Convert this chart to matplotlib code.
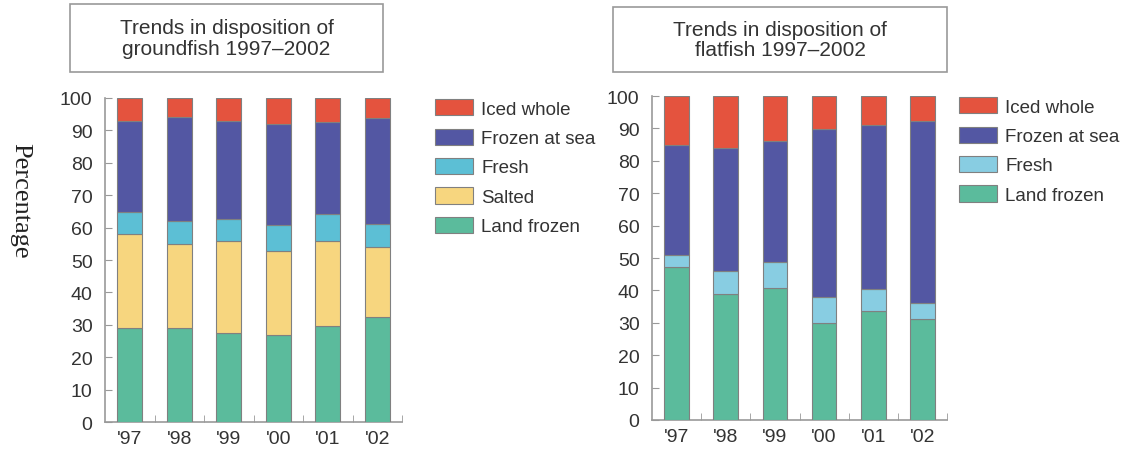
import numpy as np
import matplotlib.pyplot as plt
from matplotlib.patches import Rectangle

plt.rcParams['font.family'] = ['Liberation Sans', 'DejaVu Sans']

years = ["'97", "'98", "'99", "'00", "'01", "'02"]

# groundfish shares (%)
gf_land = [29, 29, 27.6, 27, 29.5, 32.4]
gf_salted = [29, 25.9, 28.3, 25.8, 26.4, 21.7]
gf_fresh = [6.8, 7.1, 6.7, 8.0, 8.2, 7.1]
gf_frozen = [28.2, 32.0, 30.4, 31.3, 28.5, 32.7]
gf_iced = [7.0, 6.0, 7.0, 7.9, 7.4, 6.1]

# flatfish shares (%)
ff_land = [47.1, 39.0, 40.8, 30.0, 33.5, 31.1]
ff_fresh = [3.9, 7.0, 8.1, 8.0, 6.8, 5.0]
ff_frozen = [34.0, 38.1, 37.2, 51.9, 50.8, 56.3]
ff_iced = [15.0, 15.9, 13.9, 10.1, 8.9, 7.6]

c_iced = '#e4533e'
c_frozen = '#5357a3'
c_fresh_gf = '#5cbfd5'
c_fresh_ff = '#88cde2'
c_salted = '#f7d67f'
c_land = '#5bbb9c'
edge = '#808080'
txt = '#333333'

fig = plt.figure(figsize=(11.24, 4.56), dpi=100)
W, H = 1124, 456


def px_axes(x0, y_top, x1, y_bot):
    return fig.add_axes([x0 / W, 1 - y_bot / H, (x1 - x0) / W, (y_bot - y_top) / H])


def stacked(ax, layers):
    x = np.arange(len(years))
    bottom = np.zeros(len(years))
    for vals, col, lab in layers:
        ax.bar(x, vals, width=0.5, bottom=bottom, color=col, edgecolor=edge,
               linewidth=0.8, label=lab, zorder=3)
        bottom += np.array(vals)
    ax.set_xlim(-0.5, len(years) - 0.5)
    ax.set_ylim(0, 100)
    ax.set_xticks(x)
    ax.set_xticklabels(years)
    ax.set_xticks(np.arange(len(years)) + 0.5, minor=True)
    ax.tick_params(axis='x', which='major', length=0, pad=6, labelsize=14, labelcolor=txt)
    ax.tick_params(axis='x', which='minor', direction='in', length=5, color='#999999')
    ax.set_yticks(range(0, 101, 10))
    ax.tick_params(axis='y', direction='in', length=5, color='#999999', pad=9,
                   labelsize=14, labelcolor=txt)
    for s in ['top', 'right']:
        ax.spines[s].set_visible(False)
    for s in ['left', 'bottom']:
        ax.spines[s].set_color('#999999')
        ax.spines[s].set_linewidth(1.2)


def title_box(x0, y0, x1, y1, text):
    fig.patches.append(Rectangle((x0 / W, 1 - y1 / H), (x1 - x0) / W, (y1 - y0) / H,
                                 transform=fig.transFigure, fill=False,
                                 edgecolor='#999999', linewidth=1.2))
    fig.text((x0 + x1) / 2 / W, 1 - (y0 + y1) / 2 / H, text, ha='center', va='center',
             fontsize=15, color=txt, linespacing=1.1)


# left panel: groundfish
ax1 = px_axes(105, 99, 402, 423)
stacked(ax1, [(gf_land, c_land, 'Land frozen'), (gf_salted, c_salted, 'Salted'),
              (gf_fresh, c_fresh_gf, 'Fresh'), (gf_frozen, c_frozen, 'Frozen at sea'),
              (gf_iced, c_iced, 'Iced whole')])
title_box(70, 5, 383, 73, 'Trends in disposition of\ngroundfish 1997\u20132002')

# right panel: flatfish
ax2 = px_axes(652, 97, 947, 421)
stacked(ax2, [(ff_land, c_land, 'Land frozen'), (ff_fresh, c_fresh_ff, 'Fresh'),
              (ff_frozen, c_frozen, 'Frozen at sea'), (ff_iced, c_iced, 'Iced whole')])
title_box(613, 8, 947, 73, 'Trends in disposition of\nflatfish 1997\u20132002')

# legends, top entry first
for ax, anchor in [(ax1, (422 / W, 1 - 87 / H)), (ax2, (946 / W, 1 - 85 / H))]:
    h, l = ax.get_legend_handles_labels()
    leg = fig.legend(h[::-1], l[::-1], loc='upper left', bbox_to_anchor=anchor,
                     frameon=False, fontsize=13.5, handlelength=2.0, handleheight=0.95,
                     handletextpad=0.45, labelspacing=0.58, borderpad=0.2)
    for t in leg.get_texts():
        t.set_color(txt)

fig.text(20 / W, 1 - 201 / H, 'Percentage', rotation=270, ha='center', va='center',
         fontsize=19, family='Liberation Serif', color='#222222')

fig.savefig('out.png', dpi=100)
